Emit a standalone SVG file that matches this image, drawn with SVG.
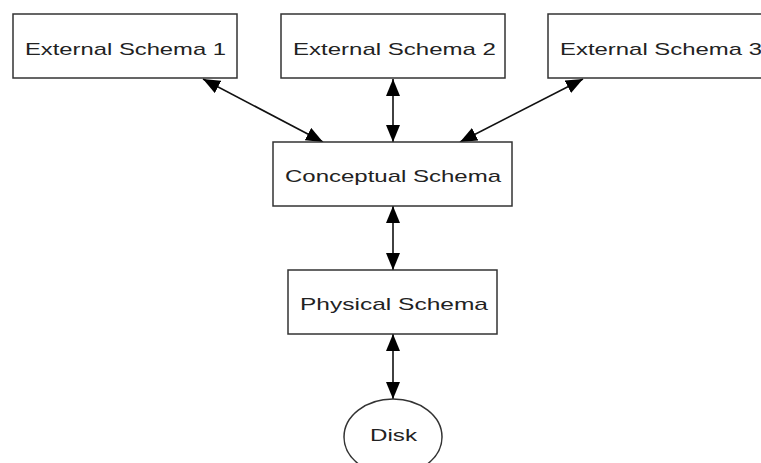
<svg xmlns="http://www.w3.org/2000/svg" width="761" height="463" viewBox="0 0 761 463">
<style>
.box{fill:#fff;stroke:#333;stroke-width:1.5}
.lbl{font-family:"Liberation Sans",Arial,sans-serif;font-size:17px;fill:#222;text-anchor:start}
.conn{stroke:#111;stroke-width:1.6;fill:none;marker-start:url(#ah);marker-end:url(#ah)}
</style>
<defs>
<marker id="ah" markerUnits="userSpaceOnUse" markerWidth="17" markerHeight="14" refX="17" refY="7" orient="auto-start-reverse">
<path d="M0,0 L17,7 L0,14 z" fill="#000"/>
</marker>
</defs>
<rect width="761" height="463" fill="#fff"/>
<g id="connectors">
<line class="conn" x1="203" y1="79" x2="323" y2="142"/>
<line class="conn" x1="393" y1="79" x2="393" y2="142"/>
<line class="conn" x1="583" y1="79" x2="460" y2="142"/>
<line class="conn" x1="393" y1="206" x2="393" y2="270"/>
<line class="conn" x1="393" y1="334" x2="393" y2="399"/>
</g>
<g id="ext1">
<rect class="box" x="13" y="14" width="224" height="64"/>
<text class="lbl" x="25" y="55" textLength="201" lengthAdjust="spacingAndGlyphs">External Schema 1</text>
</g>
<g id="ext2">
<rect class="box" x="281" y="14" width="224" height="64"/>
<text class="lbl" x="293" y="55" textLength="203" lengthAdjust="spacingAndGlyphs">External Schema 2</text>
</g>
<g id="ext3">
<rect class="box" x="548" y="14" width="224" height="64"/>
<text class="lbl" x="560" y="55" textLength="202" lengthAdjust="spacingAndGlyphs">External Schema 3</text>
</g>
<g id="conceptual">
<rect class="box" x="273" y="142" width="239" height="64"/>
<text class="lbl" x="285" y="182" textLength="216" lengthAdjust="spacingAndGlyphs">Conceptual Schema</text>
</g>
<g id="physical">
<rect class="box" x="288" y="270" width="209" height="64"/>
<text class="lbl" x="300" y="310" textLength="188" lengthAdjust="spacingAndGlyphs">Physical Schema</text>
</g>
<g id="disk">
<ellipse class="box" cx="393" cy="437" rx="49" ry="38"/>
<text class="lbl" x="370" y="441" textLength="47" lengthAdjust="spacingAndGlyphs">Disk</text>
</g>
</svg>
